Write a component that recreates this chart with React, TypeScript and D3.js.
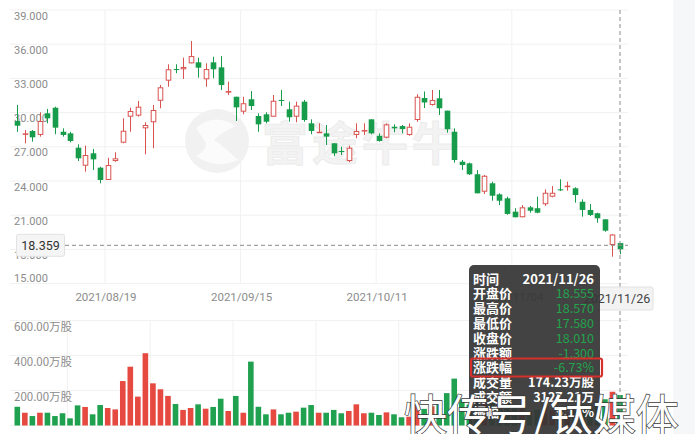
import React from 'react';
import * as d3 from 'd3';

const dates = [
  '2021/08/04','2021/08/05','2021/08/06','2021/08/09','2021/08/10','2021/08/11','2021/08/12','2021/08/13','2021/08/16','2021/08/17',
  '2021/08/18','2021/08/19','2021/08/20','2021/08/23','2021/08/24','2021/08/25','2021/08/26','2021/08/27','2021/08/30','2021/08/31',
  '2021/09/01','2021/09/02','2021/09/03','2021/09/07','2021/09/08','2021/09/09','2021/09/10','2021/09/13','2021/09/14','2021/09/15',
  '2021/09/16','2021/09/17','2021/09/20','2021/09/21','2021/09/22','2021/09/23','2021/09/24','2021/09/27','2021/09/28','2021/09/29',
  '2021/09/30','2021/10/01','2021/10/04','2021/10/05','2021/10/06','2021/10/07','2021/10/08','2021/10/11','2021/10/12','2021/10/13',
  '2021/10/14','2021/10/15','2021/10/18','2021/10/19','2021/10/20','2021/10/21','2021/10/22','2021/10/25','2021/10/26','2021/10/27',
  '2021/10/28','2021/10/29','2021/11/01','2021/11/02','2021/11/03','2021/11/04','2021/11/05','2021/11/08','2021/11/09','2021/11/10',
  '2021/11/11','2021/11/12','2021/11/15','2021/11/16','2021/11/17','2021/11/18','2021/11/19','2021/11/22','2021/11/23','2021/11/24',
  '2021/11/26'
];

const opens = [
  29.26, 28.10, 28.39, 28.04, 29.94, 30.43, 28.32, 28.18, 26.92, 25.34,
  26.43, 25.17, 24.09, 25.75, 27.36, 29.64, 29.73, 28.62, 29.15, 31.04,
  32.80, 33.82, 33.80, 34.32, 34.41, 32.92, 34.41, 33.97, 31.75, 31.39,
  30.08, 31.17, 29.70, 29.85, 29.64, 31.11, 30.29, 29.64, 30.96, 29.06,
  28.27, 28.18, 27.31, 26.63, 25.75, 28.04, 28.39, 29.41, 27.97, 27.80,
  28.76, 28.82, 28.04, 29.35, 31.28, 30.67, 31.25, 30.17, 28.32, 25.69,
  25.55, 24.59, 23.06, 23.80, 22.83, 22.48, 21.31, 20.82, 21.69, 21.61,
  21.96, 22.62, 23.27, 23.50, 23.36, 22.18, 21.46, 21.17, 20.64, 18.39,
  18.555
];
const highs = [
  30.67, 28.47, 28.47, 30.03, 30.32, 30.52, 28.62, 28.32, 27.22, 27.10,
  26.81, 25.25, 26.04, 26.52, 29.50, 30.43, 31.02, 29.15, 30.67, 32.42,
  34.24, 34.24, 34.82, 36.28, 34.82, 34.32, 34.90, 34.96, 32.71, 31.39,
  31.39, 31.89, 29.94, 30.03, 31.54, 31.98, 30.96, 30.96, 31.11, 29.41,
  29.06, 28.91, 27.31, 27.01, 27.10, 29.06, 29.06, 29.41, 28.18, 29.06,
  28.97, 28.91, 29.06, 31.61, 31.85, 31.98, 31.98, 30.17, 28.62, 25.84,
  25.61, 24.96, 24.53, 23.94, 22.92, 22.62, 21.61, 21.89, 21.81, 22.62,
  23.27, 23.56, 24.15, 23.94, 23.45, 22.39, 21.98, 21.22, 20.64, 19.35,
  18.570
];
const lows = [
  28.32, 27.31, 27.45, 27.89, 29.06, 28.10, 27.89, 27.39, 25.75, 24.82,
  24.96, 23.80, 24.09, 25.69, 27.31, 28.32, 29.64, 26.34, 26.87, 30.38,
  32.27, 33.45, 32.95, 34.32, 33.06, 32.27, 33.01, 31.98, 31.54, 29.26,
  29.85, 30.23, 28.32, 29.06, 29.64, 30.58, 29.20, 29.15, 29.20, 28.10,
  28.27, 27.16, 26.19, 26.28, 25.64, 27.75, 28.04, 28.10, 27.45, 27.75,
  28.27, 28.18, 27.97, 29.20, 30.40, 30.61, 29.79, 28.24, 25.61, 24.96,
  24.53, 22.92, 22.86, 22.27, 21.89, 21.04, 20.82, 20.82, 21.22, 21.17,
  21.81, 22.57, 23.12, 23.15, 22.10, 20.87, 20.93, 20.34, 19.55, 17.36,
  17.580
];
const closes = [
  28.85, 28.18, 27.83, 29.26, 29.50, 28.68, 28.04, 27.51, 25.99, 26.28,
  25.90, 24.09, 25.40, 25.99, 28.41, 30.14, 30.52, 28.91, 30.23, 32.22,
  33.80, 33.76, 34.00, 34.96, 33.94, 33.82, 33.80, 32.42, 31.89, 30.46,
  30.82, 30.58, 28.97, 29.20, 31.04, 31.02, 29.59, 30.61, 29.35, 28.39,
  28.32, 27.89, 26.43, 26.54, 26.92, 28.39, 28.47, 28.18, 27.51, 28.97,
  28.62, 28.56, 28.76, 31.39, 30.89, 31.11, 30.38, 28.54, 25.84, 25.40,
  24.59, 22.92, 24.46, 22.71, 22.27, 21.11, 20.82, 21.69, 21.39, 21.22,
  22.97, 22.97, 23.18, 23.59, 22.77, 21.46, 21.02, 20.73, 19.64, 19.31,
  18.010
];
// 万股
const volumes = [
  107, 73, 54, 73, 73, 54, 70, 41, 115, 106,
  64, 117, 100, 92, 254, 336, 165, 413, 241, 207,
  169, 123, 89, 100, 121, 96, 106, 153, 83, 169,
  73, 365, 107, 64, 92, 64, 73, 79, 102, 117,
  73, 73, 89, 70, 83, 121, 70, 73, 60, 75,
  64, 47, 50, 130, 95, 110, 120, 185, 268, 150,
  120, 180, 140, 130, 110, 150, 120, 100, 80, 90,
  120, 90, 80, 70, 100, 120, 100, 110, 150, 193,
  174.23
];

const priceTicks = [39, 36, 33, 30, 27, 24, 21, 18, 15];
const volumeTicks = [600, 400, 200];
const dateTicks = ['2021/08/19', '2021/09/15', '2021/10/11', '2021/11/04'];
const volumeGridDates = ['2021/08/12', '2021/08/27', '2021/09/14', '2021/09/29', '2021/10/14', '2021/10/29', '2021/11/15'];
const crossPrice = 18.359;
const crossDate = '2021/11/26';

const tipLabels = ['时间', '开盘价', '最高价', '最低价', '收盘价', '涨跌额', '涨跌幅', '成交量', '成交额', '振幅'];
const tipValues = ['2021/11/26', '18.555', '18.570', '17.580', '18.010', '-1.300', '-6.73%', '174.23万股', '3127.21万', '5.13%'];
const tipGreen = [false, true, true, true, true, true, true, false, false, false];

const W = 695;
const H = 434;
const RED = '#d9534f';
const RED_VOL = '#e5493f';
const GREEN = '#169c4a';
const GREEN_VOL = '#1fa150';
const AXIS_TXT = '#8c8c8c';
const GRID = '#f1f1f1';
const FONT = 'Roboto, "Noto Sans CJK SC", sans-serif';
const CJK = '"Noto Sans CJK SC", Roboto, sans-serif';

export default function App() {
  const x = d3.scalePoint<string>().domain(dates).range([17.3, 620]);
  const step = x.step();
  const bw = 5.6;
  const gridOff = step * 0.64;
  const y = d3.scaleLinear().domain([15, 39]).range([283.6, 10]);
  const yv = d3.scaleLinear().domain([0, 600]).range([425.5, 320.5]);

  const left = 10;
  const right = 628;

  const candles = dates.map((d, i) => {
    const o = opens[i], c = closes[i], h = highs[i], l = lows[i];
    const up = c >= o;
    const cx = Math.round(x(d)!) + 0.5;
    const top = y(Math.max(o, c));
    const bot = y(Math.min(o, c));
    const bh = Math.max(1, bot - top);
    return (
      <g key={d}>
        <line x1={cx} x2={cx} y1={y(h)} y2={y(l)} stroke={up ? RED : GREEN} strokeWidth={1} />
        {up ? (
          <rect x={cx - bw / 2 + 0.5} y={top + 0.5} width={bw - 1} height={Math.max(0.5, bh - 1)} fill="#fff" stroke={RED} strokeWidth={1} />
        ) : (
          <rect x={cx - bw / 2} y={top} width={bw} height={bh} fill={GREEN} />
        )}
      </g>
    );
  });

  const volBars = dates.map((d, i) => {
    const up = closes[i] >= opens[i];
    const cx = x(d)!;
    return (
      <rect key={d} x={cx - bw / 2} y={yv(volumes[i])} width={bw} height={yv(0) - yv(volumes[i])} fill={up ? RED_VOL : GREEN_VOL} />
    );
  });

  const cx = x(crossDate)!;
  const cy = y(crossPrice);
  const tipX = 469;
  const tipY = 265;
  const rowY0 = 278.5;
  const rowStep = 14.8;

  return (
    <svg width={W} height={H} style={{ position: 'absolute', left: 0, top: 0, background: '#fff' }} fontFamily={FONT}>
      <rect x={0} y={0} width={W} height={H} fill="#fff" />
      <rect x={673} y={0} width={22} height={H} fill="#f6f7f9" />

      {/* price grid */}
      {priceTicks.map((t) => (
        <line key={'pg' + t} x1={left} x2={right} y1={y(t)} y2={y(t)} stroke={GRID} />
      ))}
      {dateTicks.map((d) => (
        <line key={'vg' + d} x1={x(d)! + gridOff} x2={x(d)! + gridOff} y1={y(39)} y2={y(15)} stroke={GRID} />
      ))}
      {/* volume grid */}
      {volumeTicks.concat([0]).map((t) => (
        <line key={'vvg' + t} x1={left} x2={right} y1={yv(t)} y2={yv(t)} stroke={GRID} />
      ))}
      {volumeGridDates.map((d) => (
        <line key={'vvx' + d} x1={x(d)! + gridOff} x2={x(d)! + gridOff} y1={yv(600)} y2={yv(0)} stroke={GRID} />
      ))}

      {/* Futu watermark */}
      <g>
        <circle cx={217} cy={141} r={32} fill="#f1f1f1" />
        <path d="M 196 128 Q 214 112 236 126 Q 222 132 214 140 Q 226 148 238 160 Q 216 170 196 156 Q 210 148 204 140 Z" fill="#fbfbfb" />
        <text x={262} y={160} fontSize={46} fontWeight={700} fill="#f3f3f3" stroke="#ececec" strokeWidth={1} fontFamily={CJK} letterSpacing={4}>富途牛牛</text>
      </g>

      {/* price axis labels */}
      {priceTicks.map((t, i) => (
        <text key={'pl' + t} x={14} y={i === priceTicks.length - 1 ? y(t) - 2 : y(t) + 9.5} fontSize={11} fill={AXIS_TXT}>
          {d3.format('.3f')(t)}
        </text>
      ))}

      {/* candles */}
      {candles}

      {/* date labels */}
      {dateTicks.map((d) => (
        <text key={'dl' + d} x={x(d)! + gridOff + 1} y={301} fontSize={11.5} fill={AXIS_TXT} textAnchor="middle">{d}</text>
      ))}

      {/* volume labels */}
      {volumeTicks.map((t) => (
        <text key={'vl' + t} x={14} y={yv(t) + 10} fontSize={11.5} fill={AXIS_TXT} fontFamily={CJK}>
          {d3.format('.2f')(t)}万股
        </text>
      ))}

      {/* volume bars */}
      {volBars}

      {/* crosshair */}
      <line x1={16} x2={right} y1={cy} y2={cy} stroke="#8a8a8a" strokeDasharray="4,3" />
      <line x1={cx} x2={cx} y1={y(39)} y2={H} stroke="#8a8a8a" strokeDasharray="4,3" />
      <rect x={16.5} y={cy - 11} width={48} height={22} rx={2} fill="#f5f5f5" stroke="#e2e2e2" />
      <text x={40.5} y={cy + 4.5} fontSize={12.5} fill="#333" textAnchor="middle">{crossPrice.toFixed(3)}</text>
      <rect x={cx - 38} y={287} width={71} height={23} rx={2} fill="#f3f3f3" stroke="#e2e2e2" />
      <text x={cx - 3} y={303} fontSize={12.5} fill="#444" textAnchor="middle">{crossDate}</text>

      {/* tooltip */}
      <rect x={tipX} y={tipY} width={131} height={190} rx={5} fill="#353535" opacity={0.93} />
      {tipLabels.map((l, i) => (
        <text key={'tl' + i} x={tipX + 4} y={rowY0 + i * rowStep + 5} fontSize={13} fontWeight={700} fill="#fff" fontFamily={CJK}>{l}</text>
      ))}
      {tipValues.map((v, i) => (
        <text key={'tv' + i} x={594} y={rowY0 + i * rowStep + 5} fontSize={i === 0 ? 13 : 12.5} fontWeight={i === 0 || !tipGreen[i] ? 700 : 400} fill={tipGreen[i] ? '#22a34c' : '#fff'} textAnchor="end" fontFamily={CJK}>{v}</text>
      ))}
      <rect x={471} y={358.5} width={131} height={18} rx={2} fill="none" stroke="#d5302b" strokeWidth={2.2} />

      {/* bottom watermark */}
      <text x={404} y={431} fontSize={43} fontFamily={CJK} fill="#ffffff" stroke="#3a3a3a" strokeWidth={1.4} paintOrder="stroke" letterSpacing={0}>快传号/钛媒体</text>
    </svg>
  );
}
